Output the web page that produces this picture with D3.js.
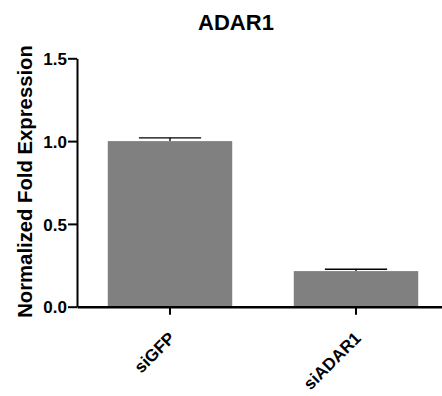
<!DOCTYPE html>
<html>
<head>
<meta charset="utf-8">
<script src="https://cdn.jsdelivr.net/npm/d3@7"></script>
<style>
  body { margin: 0; background: #fff; }
  svg text { font-family: "Liberation Sans", Arial, sans-serif; font-weight: bold; }
</style>
</head>
<body>
<script>
// data
var categories = ["siGFP", "siADAR1"];
var values = [1.0, 0.215];
var errors = [0.02, 0.011];
var yTicks = [0, 0.5, 1.0, 1.5];

var width = 442, height = 396;
var margin = {top: 58.3, left: 77, bottom: 89.3};

var svg = d3.select("body")
    .append("svg")
    .attr("width", width)
    .attr("height", height);

var x = d3.scaleBand()
    .domain(categories)
    .range([margin.left, margin.left + 372])
    .paddingInner(0.331)
    .paddingOuter(0.1655);

var y = d3.scaleLinear()
    .domain([0, 1.5])
    .range([height - margin.bottom, margin.top]);

// bars
svg.selectAll("rect.bar")
    .data(values)
    .enter()
    .append("rect")
    .attr("class", "bar")
    .attr("x", (d, i) => x(categories[i]))
    .attr("y", d => y(d))
    .attr("width", x.bandwidth())
    .attr("height", d => y(0) - y(d))
    .attr("fill", "#808080");

// error bars (upper only)
var eb = svg.selectAll("g.err")
    .data(values)
    .enter()
    .append("g")
    .attr("class", "err");

eb.append("line")
    .attr("x1", (d, i) => x(categories[i]) + x.bandwidth() / 2)
    .attr("x2", (d, i) => x(categories[i]) + x.bandwidth() / 2)
    .attr("y1", d => y(d))
    .attr("y2", (d, i) => y(d + errors[i]))
    .attr("stroke", "#000")
    .attr("stroke-width", 1.3);

eb.append("line")
    .attr("x1", (d, i) => x(categories[i]) + x.bandwidth() / 4)
    .attr("x2", (d, i) => x(categories[i]) + x.bandwidth() * 3 / 4)
    .attr("y1", (d, i) => y(d + errors[i]))
    .attr("y2", (d, i) => y(d + errors[i]))
    .attr("stroke", "#000")
    .attr("stroke-width", 1.3);

// y axis
var yAxis = d3.axisLeft(y)
    .tickValues(yTicks)
    .tickFormat(d3.format(".1f"))
    .tickSize(9)
    .tickSizeOuter(0)
    .tickPadding(1);

var gy = svg.append("g")
    .attr("transform", `translate(${margin.left}, 0)`)
    .call(yAxis);
gy.select(".domain").attr("stroke-width", 2);
gy.selectAll(".tick line").attr("stroke-width", 2);
gy.selectAll(".tick text")
    .attr("font-size", 17)
    .attr("fill", "#000")
    .attr("dy", "0.36em");

// x axis
var xAxis = d3.axisBottom(x)
    .tickSize(8)
    .tickSizeOuter(0);

var gx = svg.append("g")
    .attr("transform", `translate(0, ${y(0)})`)
    .call(xAxis);
gx.select(".domain").attr("stroke-width", 2.5);
gx.selectAll(".tick line").attr("stroke-width", 2);
gx.selectAll(".tick text")
    .attr("font-size", 17)
    .attr("fill", "#000")
    .attr("text-anchor", "end")
    .attr("y", 0)
    .attr("dy", 0)
    .attr("transform", "translate(6, 32.5) rotate(-45)");

// title
svg.append("text")
    .attr("x", 236)
    .attr("y", 29.5)
    .attr("text-anchor", "middle")
    .attr("font-size", 22)
    .text("ADAR1");

// y label
svg.append("text")
    .attr("transform", "rotate(-90)")
    .attr("x", -181.5)
    .attr("y", 31.5)
    .attr("text-anchor", "middle")
    .attr("font-size", 20.3)
    .text("Normalized Fold Expression");
</script>
</body>
</html>
